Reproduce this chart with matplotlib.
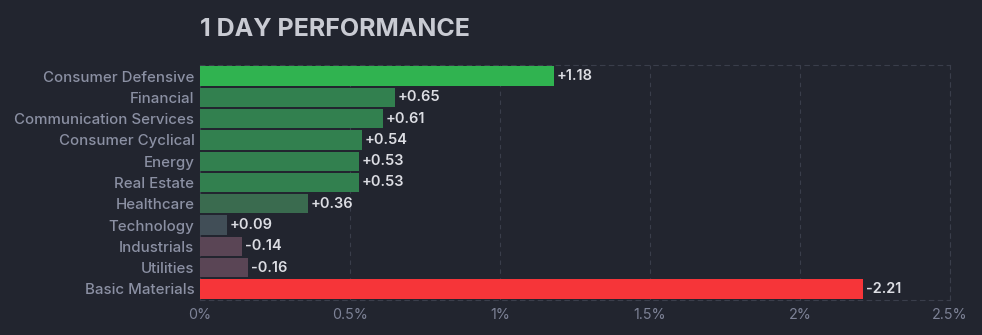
import matplotlib
matplotlib.use("Agg")
import matplotlib.pyplot as plt

sectors = ["Consumer Defensive", "Financial", "Communication Services",
           "Consumer Cyclical", "Energy", "Real Estate", "Healthcare",
           "Technology", "Industrials", "Utilities", "Basic Materials"]
changes = [1.18, 0.65, 0.61, 0.54, 0.53, 0.53, 0.36, 0.09, -0.14, -0.16, -2.21]
colors = ["#30b350", "#32804f", "#32804f", "#32804f", "#32804f", "#32804f",
          "#3a6b4f", "#414e57", "#5a4555", "#5a4555", "#f63539"]
xticks = [0, 0.5, 1, 1.5, 2, 2.5]
xticklabels = ["0%", "0.5%", "1%", "1.5%", "2%", "2.5%"]

bg = "#22252f"
plt.rcParams['font.family'] = ['Inter', 'DejaVu Sans']

fig = plt.figure(figsize=(9.82, 3.35), dpi=100, facecolor=bg)
ax = fig.add_axes([200/982, 1-300/335, 750/982, 235/335])
ax.set_facecolor(bg)

ypos = list(range(len(sectors)))
ax.barh(ypos, [abs(c) for c in changes], height=0.9, color=colors, zorder=3)

# value labels next to each bar
for y, c in zip(ypos, changes):
    txt = f"+{c:.2f}" if c > 0 else f"-{abs(c):.2f}"
    ax.text(abs(c) + 0.01, y, txt, va='center', ha='left', fontsize=10.5,
            fontweight='semibold', color="#dcdde3", zorder=4)

ax.set_xlim(0, 2.5)
ax.set_ylim(len(sectors) - 0.48, -0.52)
ax.set_yticks(ypos)
ax.set_yticklabels(sectors, fontweight='medium')
ax.set_xticks(xticks)
ax.set_xticklabels(xticklabels)
ax.tick_params(axis='y', length=0, pad=4, labelsize=10.8, labelcolor="#8b90a3")
ax.tick_params(axis='x', length=0, pad=6, labelsize=10.3, labelcolor="#7d8296")

ax.grid(axis='x', color="#3a3e4b", linestyle=(0, (4, 4)), linewidth=0.8, zorder=0)
for s in ax.spines.values():
    s.set_color("#3a3e4b")
    s.set_linestyle((0, (4, 4)))
    s.set_linewidth(0.8)

fig.text(200/982, 1-29/335, "1 DAY PERFORMANCE", fontsize=18, fontweight='bold',
         color="#c9cbd3", va='center', ha='left')

fig.savefig("out.png", dpi=100, facecolor=bg)
